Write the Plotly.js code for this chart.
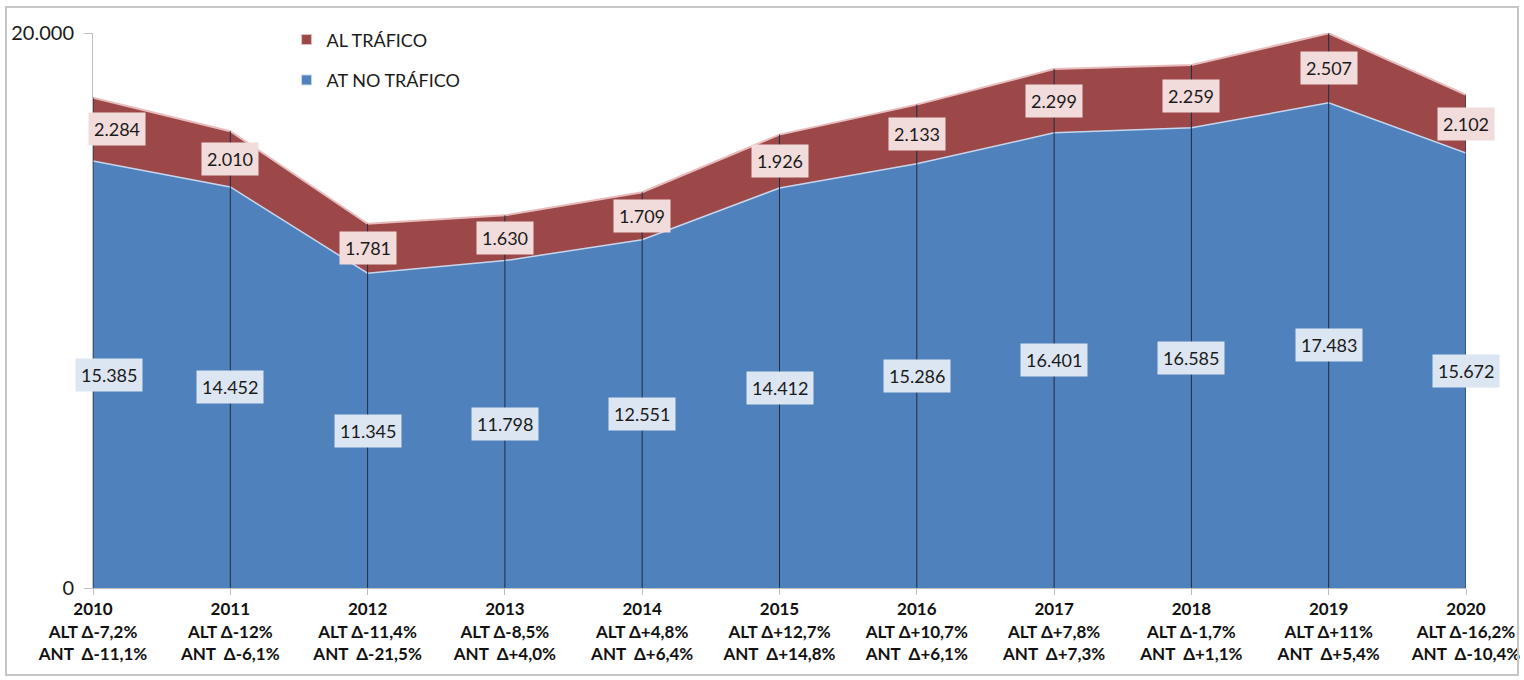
<!DOCTYPE html>
<html>
<head>
<meta charset="utf-8">
<script src="https://cdn.plot.ly/plotly-3.0.1.min.js"></script>
<style>
  html, body { margin: 0; padding: 0; background: #fff; }
  #wrap { position: relative; width: 1524px; height: 680px; }
  #chart { width: 1524px; height: 680px; }
  #frame { position: absolute; left: 5px; top: 6px; width: 1510px; height: 666px;
           border: 2px solid #c6c6c6; pointer-events: none; }
</style>
</head>
<body>
<div id="wrap"><div id="chart"></div><div id="frame"></div></div>
<script>
const years = [2010, 2011, 2012, 2013, 2014, 2015, 2016, 2017, 2018, 2019, 2020];
const atNoTrafico = [15385, 14452, 11345, 11798, 12551, 14412, 15286, 16401, 16585, 17483, 15672];
const alTrafico = [2284, 2010, 1781, 1630, 1709, 1926, 2133, 2299, 2259, 2507, 2102];
const altDelta = ['-7,2%', '-12%', '-11,4%', '-8,5%', '+4,8%', '+12,7%', '+10,7%', '+7,8%', '-1,7%', '+11%', '-16,2%'];
const antDelta = ['-11,1%', '-6,1%', '-21,5%', '+4,0%', '+6,4%', '+14,8%', '+6,1%', '+7,3%', '+1,1%', '+5,4%', '-10,4%'];
const yTicks = [0, 20000];

const BLUE = '#4f81bd', RED = '#9c4849';
const FONT = 'Lato, Liberation Sans, sans-serif';

function fmt(n) {
  return String(n).replace(/\B(?=(\d{3})+(?!\d))/g, '.');
}

const totals = years.map((y, i) => atNoTrafico[i] + alTrafico[i]);

const tickText = years.map((y, i) =>
  '<b>' + y + '</b><br><b>ALT Δ' + altDelta[i] + '</b><br><b>ANT \u00a0Δ' + antDelta[i] + '</b>');

const dropX = [], dropY = [];
years.forEach((y, i) => { dropX.push(y, y, null); dropY.push(0, totals[i], null); });

const traces = [
  {
    x: years, y: atNoTrafico, name: 'AT NO TRÁFICO', type: 'scatter', mode: 'lines',
    stackgroup: 'one', fillcolor: BLUE, showlegend: false,
    line: { color: '#c6d6ec', width: 1.5 }, hoverinfo: 'x+y'
  },
  {
    x: years, y: alTrafico, name: 'AL TRÁFICO', type: 'scatter', mode: 'lines',
    stackgroup: 'one', fillcolor: RED, showlegend: false,
    line: { color: '#e8bcbc', width: 2 }, hoverinfo: 'x+y'
  },
  {
    x: dropX, y: dropY, type: 'scatter', mode: 'lines', showlegend: false,
    line: { color: '#1f2d40', width: 1 }, hoverinfo: 'skip'
  },
  {
    x: [null], y: [null], name: 'AL TRÁFICO', type: 'scatter', mode: 'markers',
    legendgroup: 'a', legendrank: 1,
    marker: { symbol: 'square', size: 10, color: RED, line: { color: '#e8bcbc', width: 1 } }
  },
  {
    x: [null], y: [null], name: 'AT NO TRÁFICO', type: 'scatter', mode: 'markers',
    legendgroup: 'b', legendrank: 2,
    marker: { symbol: 'square', size: 10, color: BLUE, line: { color: '#c6d6ec', width: 1 } }
  }
];

const annotations = [];
years.forEach((y, i) => {
  annotations.push({
    x: y, y: atNoTrafico[i] + alTrafico[i] / 2, text: fmt(alTrafico[i]),
    showarrow: false, bgcolor: '#f2dcdb', borderpad: 5, xshift: i === 0 ? 24 : 0,
    font: { family: FONT, size: 18, color: '#1a1a1a' }
  });
  annotations.push({
    x: y, y: atNoTrafico[i] / 2, text: fmt(atNoTrafico[i]),
    showarrow: false, bgcolor: '#dce6f2', borderpad: 5, xshift: i === 0 ? 16 : 0,
    font: { family: FONT, size: 18, color: '#1a1a1a' }
  });
});

const layout = {
  width: 1524, height: 680,
  margin: { l: 93, r: 58, t: 33, b: 92 },
  paper_bgcolor: '#ffffff', plot_bgcolor: '#ffffff',
  separators: ',.',
  showlegend: true,
  legend: {
    x: 0.141, y: 1.021, xanchor: 'left', yanchor: 'top',
    bgcolor: 'rgba(0,0,0,0)', tracegroupgap: 14, itemwidth: 30,
    font: { family: FONT, size: 18, color: '#1a1a1a' }
  },
  xaxis: {
    range: [2010, 2020], tickvals: years, ticktext: tickText,
    showgrid: false, zeroline: false,
    showline: true, linecolor: '#bfbfbf', linewidth: 1,
    ticks: 'outside', ticklen: 6, tickcolor: '#bfbfbf',
    tickfont: { family: FONT, size: 17, color: '#111' }
  },
  yaxis: {
    range: [0, 20000], tickvals: yTicks, tickformat: ',d',
    showgrid: true, gridcolor: '#a6a6a6', griddash: 'dot', gridwidth: 1,
    zeroline: false, showline: true, linecolor: '#bfbfbf', linewidth: 1,
    ticks: 'outside', ticklen: 8, tickcolor: '#bfbfbf', ticklabelstandoff: 6,
    tickfont: { family: FONT, size: 20, color: '#1a1a1a' }
  },
  annotations: annotations
};

Plotly.newPlot('chart', traces, layout, { displayModeBar: false, staticPlot: true });
</script>
</body>
</html>
